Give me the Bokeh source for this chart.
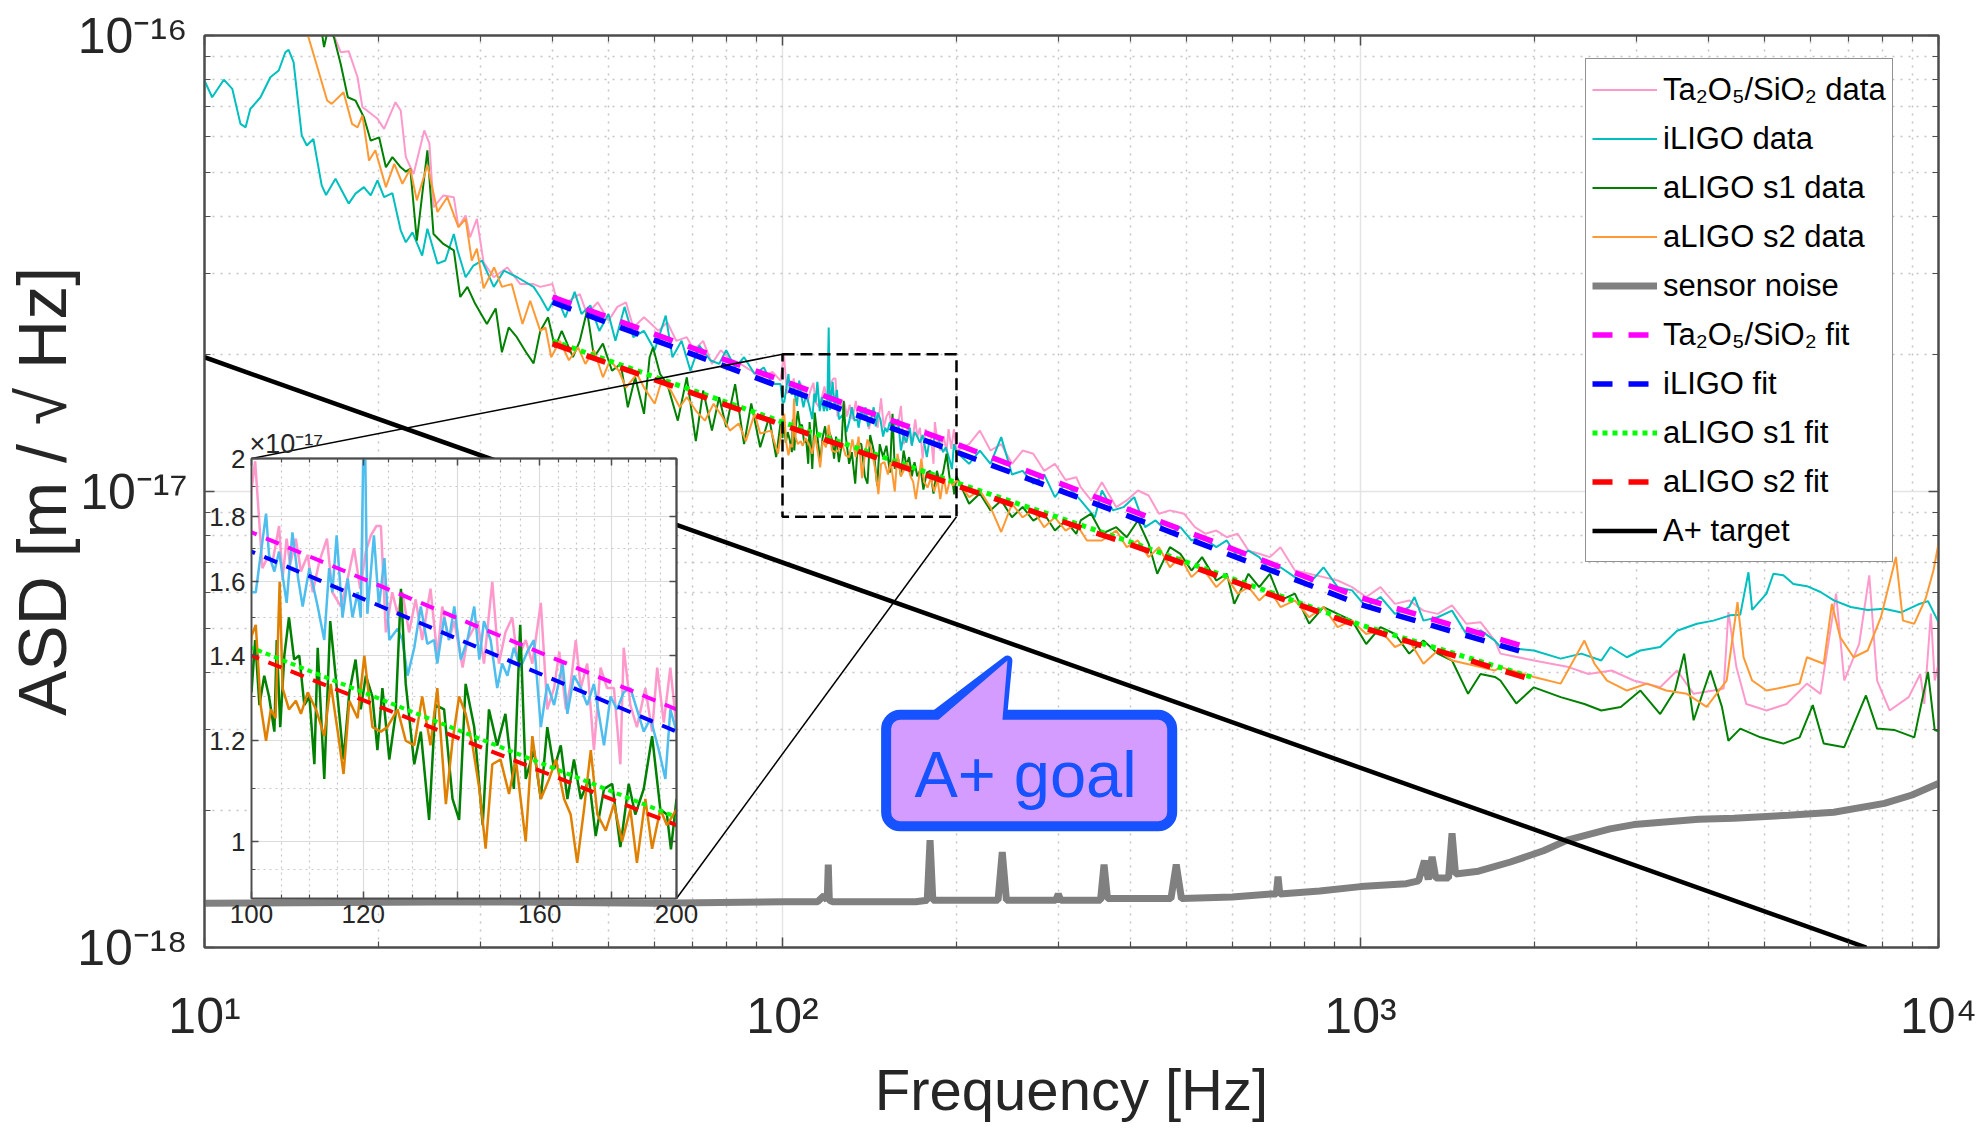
from bokeh.plotting import figure
from bokeh.models import (ColumnDataSource, FixedTicker, LogAxis, Label, Legend, LegendItem,
                          BoxAnnotation, PolyAnnotation, CustomJSTickFormatter, Range1d)
from bokeh.layouts import column
from bokeh.embed import file_html
from bokeh.resources import INLINE

# ---------------- data (frequency [Hz], ASD in units of 1e-17 m/sqrt(Hz)) ----------------
TA_DATA = [
    (14.5, 13.0), (16.75, 10.0), (17.2, 9.19), (17.76, 9.24), (18.4, 8.10), (18.76, 6.96), (19.1, 6.85),
    (19.92, 6.57), (20.45, 6.24), (21.4, 7.14), (21.85, 6.85), (22.3, 5.41), (23.0, 4.97), (24.0, 6.19),
    (24.5, 5.79), (24.9, 4.20), (25.9, 4.46), (27.0, 4.42), (27.5, 3.80), (28.3, 4.03), (28.8, 3.61),
    (29.6, 3.96), (30.4, 3.18), (31.66, 2.95), (33.4, 3.10), (35.2, 2.85), (37.1, 2.85), (38.1, 2.81),
    (40.0, 2.85), (41.0, 2.54), (42.7, 2.62), (44.6, 2.71), (45.9, 2.45), (47.9, 2.60), (50.0, 2.37),
    (51.8, 2.54), (53.6, 2.60), (55.2, 2.29), (57.6, 2.41), (59.3, 2.33), (61.0, 2.25), (63.2, 2.35),
    (65.5, 2.14), (68.3, 2.18), (70.3, 2.04), (72.9, 2.14), (75.5, 1.905), (78.2, 2.04), (81.1, 1.95),
    (84.6, 1.905), (88.3, 1.84), (92.1, 1.78), (96.1, 1.83), (99.2, 1.75),
    (100.0, 1.89), (100.6, 1.99), (101.8, 1.64), (102.6, 1.67), (103.5, 1.66), (104.6, 1.77), (105.2, 1.61),
    (105.9, 1.73), (106.5, 1.65), (107.5, 1.73), (108.4, 1.63), (109.6, 1.68), (110.5, 1.57), (111.7, 1.66),
    (113.1, 1.73), (114.1, 1.57), (115.7, 1.53), (117.0, 1.61), (118.2, 1.70), (119.4, 1.58), (120.5, 1.69),
    (121.5, 1.74), (122.6, 1.77), (123.5, 1.77), (124.5, 1.46), (125.8, 1.57), (126.9, 1.51), (127.9, 1.57),
    (129.3, 1.46), (130.7, 1.55), (132.1, 1.44), (133.9, 1.58), (135.4, 1.40), (136.5, 1.53), (138.0, 1.44),
    (139.2, 1.49), (141.1, 1.37), (142.2, 1.44), (144.6, 1.49), (146.1, 1.38), (148.1, 1.60), (149.7, 1.38),
    (151.3, 1.46), (153.0, 1.50), (154.3, 1.39), (156.4, 1.44), (158.1, 1.38), (160.3, 1.54), (162.0, 1.27),
    (163.8, 1.32), (165.2, 1.41), (167.0, 1.27), (168.3, 1.33), (169.7, 1.44), (171.1, 1.32), (172.9, 1.38),
    (174.8, 1.18), (176.7, 1.37), (178.6, 1.32), (180.6, 1.32), (182.5, 1.15), (183.5, 1.42), (185.5, 1.28),
    (187.5, 1.23), (190.1, 1.32), (192.2, 1.22), (193.8, 1.37), (195.9, 1.24), (198.0, 1.37), (200.0, 1.23),
    (210.3, 1.27), (219.5, 1.36), (229.0, 1.23), (239.0, 1.27), (249.5, 1.15), (260.3, 1.23), (271.6, 1.21),
    (283.6, 1.11), (296.0, 1.15), (308.8, 1.06), (322.3, 1.075), (328, 1.022), (342, 0.956), (357, 1.048),
    (378, 0.924), (394, 0.956), (412, 1.005), (430, 0.98), (448, 0.894), (468, 0.909), (495, 0.894),
    (517, 0.835), (539, 0.808), (563, 0.821), (587, 0.794), (613, 0.808), (640, 0.742), (668, 0.730),
    (697, 0.718), (727, 0.755), (770, 0.671), (815, 0.660), (863, 0.649), (913, 0.638), (967, 0.617),
    (1023, 0.587), (1083, 0.617), (1147, 0.567), (1214, 0.577), (1285, 0.548), (1360, 0.539), (1440, 0.563),
    (1524, 0.513), (1613, 0.517), (1708, 0.471), (1746, 0.441), (1995, 0.426), (2290, 0.412), (2480, 0.398),
    (2720, 0.405), (2970, 0.385), (3300, 0.372), (3530, 0.405), (3770, 0.360), (4080, 0.366), (4250, 0.37),
    (4330, 0.544), (4470, 0.412), (4650, 0.342), (5040, 0.331), (5460, 0.342), (5920, 0.379), (6250, 0.360),
    (6650, 0.597), (6870, 0.385), (7290, 0.463), (7590, 0.655), (7830, 0.385), (8230, 0.331), (8880, 0.354),
    (9300, 0.398), (9450, 0.342), (9700, 0.54), (9850, 0.385), (10000, 0.419),
]

ILIGO_DATA = [
    (10.0, 7.96), (10.31, 7.32), (10.8, 8.00), (11.17, 7.64), (11.54, 6.40), (11.78, 6.29), (12.0, 6.90),
    (12.5, 7.32), (13.0, 8.10), (13.44, 8.38), (13.8, 9.19), (13.98, 9.30), (14.26, 8.74), (14.73, 6.04),
    (15.03, 5.74), (15.43, 5.93), (15.95, 4.69), (16.23, 4.47), (16.85, 4.85), (17.76, 4.28), (18.25, 4.50),
    (18.87, 4.65), (19.39, 4.46), (19.92, 4.81), (20.45, 4.42), (21.14, 4.51), (21.85, 3.74), (22.3, 3.52),
    (22.9, 3.70), (23.8, 3.29), (24.3, 3.77), (25.3, 3.16), (26.1, 3.21), (27.0, 3.67), (27.4, 3.38),
    (28.3, 2.95), (29.2, 3.13), (30.2, 3.21), (31.66, 2.81), (32.97, 3.05), (34.75, 2.95), (37.1, 2.81),
    (38.1, 2.67), (39.3, 2.49), (40.6, 2.69), (42.1, 2.41), (43.7, 2.74), (44.9, 2.45), (46.5, 2.56),
    (48.2, 2.25), (50.0, 2.45), (51.4, 2.14), (53.3, 2.54), (55.2, 2.18), (57.6, 2.25), (60.1, 2.04),
    (62.8, 2.43), (64.5, 1.97), (66.9, 2.14), (69.3, 1.84), (71.8, 2.09), (75.0, 1.94), (77.7, 1.905),
    (79.9, 2.04), (82.8, 1.87), (85.8, 1.97), (89.5, 1.81), (92.8, 1.87), (96.1, 1.72), (99.2, 1.72),
    (100.0, 1.57), (100.7, 1.57), (102.4, 1.81), (102.9, 1.68), (103.8, 1.63), (104.6, 1.69), (105.9, 1.54),
    (106.9, 1.75), (107.9, 1.61), (108.7, 1.53), (109.9, 1.64), (111.4, 1.53), (112.6, 1.44), (113.5, 1.64),
    (114.1, 1.57), (114.9, 1.74), (116.0, 1.50), (117.0, 1.61), (117.9, 1.50), (118.9, 1.57), (119.5, 1.50),
    (120.2, 2.29), (120.8, 1.51), (122.1, 1.74), (123.1, 1.53), (124.2, 1.67), (125.2, 1.44), (126.9, 1.47),
    (127.9, 1.44), (129.0, 1.35), (130.4, 1.42), (131.8, 1.53), (133.2, 1.43), (134.7, 1.44), (135.4, 1.38),
    (136.9, 1.50), (138.0, 1.44), (139.2, 1.53), (140.7, 1.39), (142.2, 1.44), (143.8, 1.53), (145.0, 1.39),
    (146.1, 1.49), (147.7, 1.44), (149.3, 1.32), (150.5, 1.38), (151.8, 1.35), (153.4, 1.42), (155.1, 1.37),
    (156.8, 1.41), (158.5, 1.44), (160.3, 1.23), (162.0, 1.33), (163.8, 1.28), (166.1, 1.38), (167.4, 1.26),
    (169.2, 1.35), (171.1, 1.32), (172.9, 1.28), (174.8, 1.33), (177.7, 1.19), (179.6, 1.30), (181.5, 1.27),
    (183.5, 1.31), (185.5, 1.32), (187.5, 1.27), (189.6, 1.22), (191.7, 1.25), (194.3, 1.18), (196.4, 1.12),
    (198.0, 1.27), (200.0, 1.22), (210.3, 1.15), (219.5, 1.23), (229.0, 1.15), (239.0, 1.316), (249.5, 1.09),
    (260.3, 1.11), (271.6, 1.04), (283.6, 1.09), (296.0, 0.972), (308.8, 1.04), (322.3, 0.98), (328, 0.956),
    (347, 0.878), (357, 1.005), (373, 0.909), (389, 0.924), (406, 0.972), (424, 0.835), (442, 0.864),
    (468, 0.808), (488, 0.835), (510, 0.781), (532, 0.794), (563, 0.755), (587, 0.781), (613, 0.718),
    (640, 0.742), (668, 0.718), (697, 0.671), (727, 0.682), (770, 0.649), (815, 0.627), (863, 0.682),
    (913, 0.617), (967, 0.607), (1023, 0.558), (1083, 0.587), (1147, 0.539), (1214, 0.558), (1240, 0.587),
    (1285, 0.521), (1360, 0.530), (1440, 0.548), (1524, 0.487), (1613, 0.496), (1708, 0.471), (1746, 0.456),
    (1995, 0.448), (2220, 0.430), (2410, 0.441), (2610, 0.426), (2707, 0.456), (2890, 0.433), (3050, 0.448),
    (3300, 0.456), (3530, 0.495), (3820, 0.513), (4080, 0.521), (4360, 0.535), (4540, 0.537), (4690, 0.665),
    (4760, 0.55), (5040, 0.597), (5180, 0.660), (5390, 0.655), (5610, 0.627), (5920, 0.62), (6250, 0.602),
    (6590, 0.577), (7050, 0.558), (7540, 0.550), (8060, 0.553), (8620, 0.543), (9210, 0.565), (9590, 0.575),
    (10000, 0.517),
]

S1_DATA = [
    (15.0, 13.0), (15.95, 10.2), (16.1, 9.43), (16.4, 10.5), (16.75, 9.9), (17.2, 8.67), (17.7, 7.32),
    (18.25, 7.20), (18.87, 6.62), (19.39, 5.88), (20.05, 5.98), (20.6, 5.14), (21.14, 5.41), (21.85, 5.14),
    (22.3, 5.03), (22.7, 5.10), (23.3, 3.55), (24.3, 5.60), (24.9, 3.67), (25.9, 3.49), (27.0, 3.38),
    (27.7, 2.67), (28.5, 2.81), (29.4, 2.58), (30.8, 2.33), (31.9, 2.52), (32.7, 2.02), (33.6, 2.29),
    (34.7, 2.18), (36.0, 2.02), (37.1, 1.91), (38.1, 2.25), (39.3, 2.41), (40.4, 2.07), (41.5, 2.25),
    (43.4, 1.97), (44.6, 2.14), (45.9, 2.49), (47.2, 1.97), (48.9, 2.11), (50.7, 1.84), (52.5, 1.905),
    (54.0, 1.53), (55.6, 1.78), (57.6, 1.48), (58.9, 1.97), (59.7, 2.07), (61.4, 1.81), (63.2, 1.72),
    (65.9, 1.43), (68.3, 1.78), (70.8, 1.29), (72.9, 1.665), (75.5, 1.36), (77.7, 1.61), (79.9, 1.385),
    (82.8, 1.72), (85.8, 1.27), (88.3, 1.56), (91.5, 1.25), (94.8, 1.455), (97.5, 1.19), (99.2, 1.41),
    (100.0, 1.31), (100.6, 1.44), (101.3, 1.28), (102.1, 1.35), (102.9, 1.30), (103.8, 1.22), (104.2, 1.44),
    (104.8, 1.23), (105.5, 1.40), (106.3, 1.50), (107.2, 1.39), (108.1, 1.40), (109.0, 1.28), (109.9, 1.30),
    (110.8, 1.15), (111.4, 1.42), (112.6, 1.12), (113.7, 1.49), (114.7, 1.35), (116.2, 1.16), (117.3, 1.31),
    (118.5, 1.39), (119.5, 1.27), (120.5, 1.35), (121.8, 1.30), (122.8, 1.18), (123.8, 1.32), (125.2, 1.16),
    (126.5, 1.26), (127.6, 1.58), (128.6, 1.33), (130.4, 1.15), (131.8, 1.22), (133.6, 1.04), (135.0, 1.28),
    (136.9, 1.27), (138.8, 1.08), (140.3, 1.04), (141.8, 1.33), (143.8, 1.23), (145.8, 1.03), (147.3, 1.27),
    (149.3, 1.19), (151.3, 1.26), (153.4, 1.10), (155.0, 1.48), (156.4, 1.12), (158.5, 1.18), (160.3, 1.08),
    (162.0, 1.23), (163.8, 1.14), (165.6, 1.19), (167.4, 1.08), (169.2, 1.16), (171.1, 1.08), (173.4, 1.12),
    (175.3, 1.01), (177.7, 1.10), (180.1, 1.11), (182.5, 0.99), (185.0, 1.11), (187.0, 1.05), (189.6, 1.10),
    (192.2, 1.21), (194.8, 1.06), (196.9, 1.05), (198.2, 0.986), (200.0, 1.08), (210.3, 0.94), (219.5, 0.99),
    (229.0, 0.909), (239.0, 0.956), (249.5, 0.878), (260.3, 0.925), (271.6, 0.863), (283.6, 0.894),
    (296.0, 0.821), (308.8, 0.863), (322.3, 0.807), (328, 0.864), (342, 0.894), (357, 0.808), (378, 0.835),
    (394, 0.794), (412, 0.864), (430, 0.768), (445, 0.660), (468, 0.755), (488, 0.730), (510, 0.671),
    (532, 0.718), (563, 0.638), (587, 0.660), (605, 0.567), (640, 0.660), (668, 0.617), (697, 0.660),
    (727, 0.577), (770, 0.597), (815, 0.513), (863, 0.558), (913, 0.539), (967, 0.521), (1023, 0.463),
    (1083, 0.504), (1147, 0.487), (1214, 0.441), (1285, 0.471), (1360, 0.441), (1440, 0.426), (1535, 0.360),
    (1613, 0.398), (1708, 0.392), (1746, 0.385), (1860, 0.343), (1995, 0.372), (2220, 0.354), (2440, 0.342),
    (2610, 0.331), (2820, 0.337), (3050, 0.366), (3300, 0.325), (3500, 0.366), (3630, 0.441), (3770, 0.315),
    (4030, 0.405), (4220, 0.337), (4330, 0.284), (4540, 0.302), (4920, 0.289), (5390, 0.280), (5750, 0.289),
    (6060, 0.340), (6330, 0.280), (6870, 0.275), (7490, 0.357), (7830, 0.302), (8380, 0.300), (9080, 0.289),
    (9590, 0.402), (9850, 0.300), (10000, 0.298),
]

S2_DATA = [
    (14.0, 12.5), (15.1, 10.0), (15.43, 9.12), (16.3, 7.20), (16.6, 7.08), (17.4, 7.51), (18.0, 6.40),
    (18.4, 6.29), (18.76, 6.68), (19.26, 5.32), (19.75, 5.60), (20.6, 4.65), (21.3, 5.23), (22.0, 4.73),
    (22.7, 5.10), (23.3, 4.35), (24.3, 5.20), (25.3, 4.10), (26.3, 4.42), (27.5, 3.80), (28.3, 3.96),
    (29.0, 3.21), (29.6, 3.41), (30.4, 2.79), (31.7, 3.10), (32.7, 2.81), (34.0, 2.85), (35.5, 2.33),
    (36.6, 2.62), (38.1, 2.25), (38.9, 2.29), (39.8, 1.97), (41.2, 2.14), (42.7, 1.94), (44.3, 2.07),
    (45.6, 1.905), (47.2, 2.04), (48.9, 1.78), (50.3, 1.94), (52.1, 1.84), (53.6, 1.69), (56.0, 1.81),
    (57.6, 1.69), (60.1, 1.557), (61.8, 1.75), (64.1, 1.665), (66.4, 1.53), (68.3, 1.61), (70.8, 1.505),
    (73.4, 1.43), (76.0, 1.557), (78.8, 1.455), (81.1, 1.36), (84.0, 1.41), (86.4, 1.29), (89.5, 1.48),
    (91.5, 1.34), (95.5, 1.36), (98.2, 1.21), (99.2, 1.32),
    (100.0, 1.45), (100.7, 1.48), (101.5, 1.28), (102.4, 1.20), (103.2, 1.27), (104.0, 1.25), (104.7, 1.60),
    (105.2, 1.32), (106.3, 1.27), (107.5, 1.29), (108.4, 1.26), (109.6, 1.31), (111.1, 1.27), (112.6, 1.21),
    (113.8, 1.33), (115.1, 1.22), (116.2, 1.13), (117.3, 1.29), (118.9, 1.25), (120.2, 1.40), (121.8, 1.23),
    (123.5, 1.22), (124.8, 1.23), (126.9, 1.27), (128.6, 1.20), (130.4, 1.19), (132.1, 1.30), (133.9, 1.19),
    (135.4, 1.32), (137.3, 1.07), (138.8, 1.20), (140.3, 1.30), (141.8, 1.26), (143.4, 1.19), (145.0, 1.10),
    (146.5, 0.987), (148.1, 1.15), (150.1, 1.16), (152.2, 1.09), (153.9, 1.16), (156.4, 1.00), (158.1, 1.21),
    (160.3, 1.08), (162.5, 1.12), (164.3, 1.16), (166.5, 1.08), (168.3, 1.05), (170.1, 0.962), (172.0, 1.06),
    (173.9, 1.18), (175.8, 1.05), (178.2, 1.02), (180.6, 1.07), (183.0, 1.00), (185.5, 1.06), (187.5, 0.962),
    (190.1, 1.08), (192.2, 0.987), (194.8, 1.06), (196.9, 1.03), (200.0, 1.06), (210.3, 0.972),
    (219.5, 1.005), (229.0, 0.924), (239.0, 0.815), (249.5, 0.94), (260.3, 0.878), (271.6, 0.909),
    (283.6, 0.835), (296.0, 0.878), (308.8, 0.821), (322.3, 0.849), (336.3, 0.781), (357, 0.781),
    (378, 0.821), (394, 0.755), (412, 0.781), (430, 0.718), (448, 0.755), (468, 0.682), (488, 0.718),
    (510, 0.649), (532, 0.682), (563, 0.617), (587, 0.649), (613, 0.597), (640, 0.617), (668, 0.577),
    (697, 0.607), (727, 0.558), (770, 0.577), (815, 0.530), (863, 0.558), (913, 0.504), (967, 0.521),
    (1023, 0.487), (1083, 0.496), (1147, 0.456), (1214, 0.471), (1285, 0.419), (1360, 0.448), (1440, 0.426),
    (1524, 0.419), (1613, 0.412), (1708, 0.405), (1746, 0.412), (1995, 0.392), (2220, 0.379), (2440, 0.471),
    (2540, 0.419), (2670, 0.385), (2890, 0.366), (3130, 0.379), (3380, 0.366), (3670, 0.360), (3970, 0.337),
    (4300, 0.385), (4490, 0.572), (4600, 0.433), (4760, 0.385), (5040, 0.366), (5390, 0.372), (5750, 0.379),
    (5920, 0.433), (6330, 0.419), (6540, 0.567), (6760, 0.479), (7130, 0.433), (7540, 0.448), (7950, 0.530),
    (8440, 0.718), (8680, 0.521), (9080, 0.513), (9500, 0.582), (9800, 0.671), (10000, 0.768),
]

SENSOR_DATA = [  # units of 1e-17
    (10, 0.125), (30, 0.126), (60, 0.125), (100, 0.126), (115, 0.126), (118, 0.130), (119.5, 0.127),
    (120, 0.152), (120.5, 0.127), (122, 0.126), (170, 0.126), (178, 0.127), (180, 0.172), (182, 0.127),
    (236, 0.127), (240, 0.162), (244, 0.127), (297, 0.127), (300, 0.131), (303, 0.127), (355, 0.127),
    (360, 0.152), (365, 0.128), (470, 0.128), (480, 0.152), (490, 0.128), (600, 0.129), (700, 0.131),
    (715, 0.131), (720, 0.143), (725, 0.131), (850, 0.133), (1000, 0.136), (1200, 0.138), (1260, 0.140),
    (1290, 0.155), (1310, 0.141), (1330, 0.158), (1350, 0.142), (1420, 0.142), (1440, 0.178), (1460, 0.145),
    (1600, 0.147), (1817, 0.154), (2073, 0.163), (2279, 0.172), (2702, 0.182), (2972, 0.186), (3846, 0.191),
    (4425, 0.192), (5500, 0.195), (6590, 0.198), (8060, 0.207), (9000, 0.216), (10000, 0.229),
]

FIT_F = [40, 100, 200, 400, 1000, 2000]
TA_FIT = [2.67, 1.75, 1.27, 0.91, 0.585, 0.45]
ILIGO_FIT = [2.60, 1.69, 1.22, 0.88, 0.565, 0.437]
S1_FIT = [2.14, 1.42, 1.045, 0.775, 0.51, 0.39]
S2_FIT = [2.11, 1.40, 1.03, 0.765, 0.505, 0.385]

APLUS_F = [10, 7500]
APLUS = [1.97, 0.10]

X_TICKS = [10, 100, 1000, 10000]
X_TICK_LABELS = ["10\u00b9", "10\u00b2", "10\u00b3", "10\u2074"]
Y_TICKS = [1e-18, 1e-17, 1e-16]
Y_TICK_LABELS = ["10\u207b\u00b9\u2078", "10\u207b\u00b9\u2077", "10\u207b\u00b9\u2076"]
INSET_X_TICKS = [100, 120, 140, 160, 180, 200]
INSET_X_LABELS = ["100", "120", "", "160", "", "200"]
INSET_Y_TICKS = [1.0, 1.2, 1.4, 1.6, 1.8, 2.0]
INSET_Y_LABELS = ["1", "1.2", "1.4", "1.6", "1.8", "2"]
INSET_MULTIPLIER = "\u00d710\u207b\u00b9\u2077"

LABELS = ["Ta\u2082O\u2085/SiO\u2082 data", "iLIGO data", "aLIGO s1 data", "aLIGO s2 data",
          "sensor noise", "Ta\u2082O\u2085/SiO\u2082 fit", "iLIGO fit", "aLIGO s1 fit",
          "aLIGO s2 fit", "A+ target"]

# ---------------- styles ----------------
FONT = "Liberation Sans"
TXT = "#262626"
AX = "#4d4d4d"
PINK, CYAN, GREEN, ORANGE, GRAY = "#ff99cc", "#00bfbf", "#008000", "#ff9933", "#808080"
MAGENTA, BLUE, LIME, RED = "#ff00ff", "#0000ff", "#00ff00", "#ff0000"
IN_CYAN, IN_ORANGE = "#4dbeee", "#e08000"
CALL_FILL, CALL_BLUE = "#d59cff", "#1652ff"
E17 = 1e-17


def src(pairs):
    return ColumnDataSource(dict(f=[a for a, _ in pairs], asd=[b * E17 for _, b in pairs]))


def fit_src(vals):
    return ColumnDataSource(dict(f=FIT_F, asd=[v * E17 for v in vals]))


def blank():
    return CustomJSTickFormatter(code="return ''")


def lookup(tvals, tlabels):
    return CustomJSTickFormatter(args=dict(tvals=tvals, tlabels=tlabels), code="""
        for (let i = 0; i < tvals.length; i++) {
            if (Math.abs(Math.log10(tvals[i]) - Math.log10(tick)) < 1e-6) { return tlabels[i]; }
        }
        return '';
    """)


def style_axis(ax, ticker, tin=10, mtin=6):
    ax.ticker = ticker
    ax.major_tick_in = tin
    ax.major_tick_out = 0
    ax.minor_tick_in = mtin
    ax.minor_tick_out = 0
    ax.axis_line_color = AX
    ax.axis_line_width = 2
    ax.major_tick_line_color = AX
    ax.major_tick_line_width = 1.5
    ax.minor_tick_line_color = AX
    ax.minor_tick_line_width = 1.2


# ---------------- main figure ----------------
p = figure(width=1977, height=1128, x_axis_type="log", y_axis_type="log",
           x_range=Range1d(10, 1e4), y_range=Range1d(1e-18, 1e-16),
           output_backend="svg", toolbar_location=None,
           min_border_left=204, min_border_right=39, min_border_top=35, min_border_bottom=181)
p.outline_line_color = AX
p.outline_line_width = 2
p.background_fill_color = "white"
p.border_fill_color = "white"

x_minor = [m * d for d in (10, 100, 1000) for m in range(2, 10)]
y_minor = [m * d for d in (1e-18, 1e-17) for m in range(2, 10)]
xt = FixedTicker(ticks=X_TICKS, minor_ticks=x_minor)
yt = FixedTicker(ticks=Y_TICKS, minor_ticks=y_minor)

style_axis(p.xaxis[0], xt)
style_axis(p.yaxis[0], yt)
p.xaxis[0].formatter = lookup(X_TICKS, X_TICK_LABELS)
p.yaxis[0].formatter = lookup(Y_TICKS, Y_TICK_LABELS)
for ax in (p.xaxis[0], p.yaxis[0]):
    ax.major_label_text_font = FONT
    ax.major_label_text_font_size = "50px"
    ax.major_label_text_color = TXT
    ax.axis_label_text_font = FONT
    ax.axis_label_text_font_style = "normal"
    ax.axis_label_text_color = TXT
p.xaxis[0].major_label_standoff = 40
p.yaxis[0].major_label_standoff = 17
p.xaxis[0].axis_label = "Frequency [Hz]"
p.xaxis[0].axis_label_text_font_size = "58px"
p.xaxis[0].axis_label_standoff = 10
p.yaxis[0].axis_label = "ASD [m / \u221a Hz]"
p.yaxis[0].axis_label_text_font_size = "68px"
p.yaxis[0].axis_label_standoff = -6

ra = LogAxis(formatter=blank(), major_label_standoff=0)
ta = LogAxis(formatter=blank(), major_label_standoff=0)
style_axis(ra, yt)
style_axis(ta, xt)
p.add_layout(ra, "right")
p.add_layout(ta, "above")

for g, t in ((p.xgrid[0], xt), (p.ygrid[0], yt)):
    g.ticker = t
    g.grid_line_color = "#e4e4e4"
    g.grid_line_width = 1.5
    g.minor_grid_line_color = "#c4c4c4"
    g.minor_grid_line_dash = "2 6"
    g.minor_grid_line_width = 1.5

# curves
r_ta = p.line("f", "asd", source=src(TA_DATA), line_color=PINK, line_width=2)
r_il = p.line("f", "asd", source=src(ILIGO_DATA), line_color=CYAN, line_width=2)
r_s1 = p.line("f", "asd", source=src(S1_DATA), line_color=GREEN, line_width=2)
r_s2 = p.line("f", "asd", source=src(S2_DATA), line_color=ORANGE, line_width=2)
r_sn = p.line("f", "asd", source=src(SENSOR_DATA), line_color=GRAY, line_width=7)
r_taf = p.line("f", "asd", source=fit_src(TA_FIT), line_color=MAGENTA, line_width=5.5, line_dash="20 16")
r_ilf = p.line("f", "asd", source=fit_src(ILIGO_FIT), line_color=BLUE, line_width=5.5, line_dash="20 16")
r_s1f = p.line("f", "asd", source=fit_src(S1_FIT), line_color=LIME, line_width=5, line_dash="5 5")
r_s2f = p.line("f", "asd", source=fit_src(S2_FIT), line_color=RED, line_width=5.5, line_dash="20 16")
r_ap = p.line("f", "asd", source=ColumnDataSource(dict(f=APLUS_F, asd=[v * E17 for v in APLUS])),
              line_color="black", line_width=4.5)

# zoom rectangle and connectors to the inset corners
p.add_layout(BoxAnnotation(left=100, right=200, bottom=0.88 * E17, top=2.0 * E17,
                           fill_alpha=0, line_alpha=1, line_color="black", line_width=2.5,
                           line_dash="12 6"))
p.line([100, 12.06], [2.0 * E17, 1.181 * E17], line_color="black", line_width=1.5)
p.line([200, 65.55], [0.88 * E17, 0.1281 * E17], line_color="black", line_width=1.5)

# callout "A+ goal"
p.add_layout(BoxAnnotation(left=151.1, right=472.3, bottom=1.845e-18, top=3.237e-18,
                           fill_color=CALL_FILL, fill_alpha=1, line_color=CALL_BLUE, line_alpha=1,
                           line_width=10, border_radius=14))
p.add_layout(PolyAnnotation(xs=[184, 245, 240], ys=[3.12e-18, 4.26e-18, 3.12e-18],
                            fill_color=CALL_FILL, fill_alpha=1, line_alpha=0, level="overlay"))
p.line([184, 245, 240], [3.237e-18, 4.26e-18, 3.237e-18], line_color=CALL_BLUE, line_width=10,
       line_join="round", level="overlay")
p.add_layout(Label(x=263.3, y=2.40e-18, text="A+ goal", text_align="center", text_baseline="middle",
                   text_font=FONT, text_font_size="65px", text_color=CALL_BLUE, level="overlay"))

legend = Legend(items=[LegendItem(label=l, renderers=[r]) for l, r in
                       zip(LABELS, [r_ta, r_il, r_s1, r_s2, r_sn, r_taf, r_ilf, r_s1f, r_s2f, r_ap])],
                location=(1381, 385), orientation="vertical",
                label_text_font=FONT, label_text_font_size="31px", label_text_color="black",
                glyph_width=65, glyph_height=49, label_height=49, label_standoff=6,
                spacing=0, padding=6, margin=0,
                border_line_color=TXT, border_line_width=1.5,
                background_fill_color="white", background_fill_alpha=1)
p.add_layout(legend)

# ---------------- inset (same left/right borders as main so frames line up in the column) ----------------
ins = figure(width=668, height=524, x_axis_type="log", y_axis_type="log",
             x_range=Range1d(100, 200), y_range=Range1d(0.902 * E17, 2.0 * E17),
             output_backend="svg", toolbar_location=None,
             min_border_left=204, min_border_right=39, min_border_top=46, min_border_bottom=38)
ins.border_fill_alpha = 0
ins.background_fill_color = "white"
ins.outline_line_color = "#262626"
ins.outline_line_width = 1.5
ins.margin = (-716, 0, 0, 47)
ins.title.text = INSET_MULTIPLIER
ins.title.align = "left"
ins.title.text_font = FONT
ins.title.text_font_size = "27px"
ins.title.text_font_style = "normal"
ins.title.text_color = TXT
ins.title.standoff = 0
ins.title.offset = -2

ixt = FixedTicker(ticks=INSET_X_TICKS, minor_ticks=[105, 110, 115, 125, 130, 135, 145, 150, 155,
                                                    165, 170, 175, 185, 190, 195])
iyt = FixedTicker(ticks=[v * E17 for v in INSET_Y_TICKS],
                  minor_ticks=[v * E17 for v in (0.95, 1.1, 1.3, 1.5, 1.7, 1.9)])
style_axis(ins.xaxis[0], ixt, tin=7, mtin=4)
style_axis(ins.yaxis[0], iyt, tin=7, mtin=4)
ins.xaxis[0].formatter = lookup(INSET_X_TICKS, INSET_X_LABELS)
ins.yaxis[0].formatter = lookup([v * E17 for v in INSET_Y_TICKS], INSET_Y_LABELS)
for ax in (ins.xaxis[0], ins.yaxis[0]):
    ax.major_label_text_font = FONT
    ax.major_label_text_font_size = "26px"
    ax.major_label_text_color = TXT
    ax.major_label_standoff = 6
    ax.axis_line_width = 1.5
ira = LogAxis(formatter=blank(), major_label_standoff=0)
ita = LogAxis(formatter=blank(), major_label_standoff=0)
style_axis(ira, iyt, tin=7, mtin=4)
style_axis(ita, ixt, tin=7, mtin=4)
ins.add_layout(ira, "right")
ins.add_layout(ita, "above")
for g, t in ((ins.xgrid[0], ixt), (ins.ygrid[0], iyt)):
    g.ticker = t
    g.grid_line_color = "#dcdcdc"
    g.grid_line_width = 1.2
    g.minor_grid_line_color = "#c8c8c8"
    g.minor_grid_line_dash = "2 4"
    g.minor_grid_line_width = 1.2

ins.line("f", "asd", source=src(TA_DATA), line_color=PINK, line_width=2.5)
ins.line("f", "asd", source=src(ILIGO_DATA), line_color=IN_CYAN, line_width=2.5)
ins.line("f", "asd", source=src(S1_DATA), line_color=GREEN, line_width=2.5)
ins.line("f", "asd", source=src(S2_DATA), line_color=IN_ORANGE, line_width=2.5)
ins.line("f", "asd", source=fit_src(TA_FIT), line_color=MAGENTA, line_width=4, line_dash="14 10")
ins.line("f", "asd", source=fit_src(ILIGO_FIT), line_color=BLUE, line_width=4, line_dash="14 10")
ins.line("f", "asd", source=fit_src(S1_FIT), line_color=LIME, line_width=4, line_dash="5 4")
ins.line("f", "asd", source=fit_src(S2_FIT), line_color=RED, line_width=4, line_dash="14 10")

layout = column(p, ins, spacing=0)
open("out.html", "w").write(file_html(layout, INLINE))
